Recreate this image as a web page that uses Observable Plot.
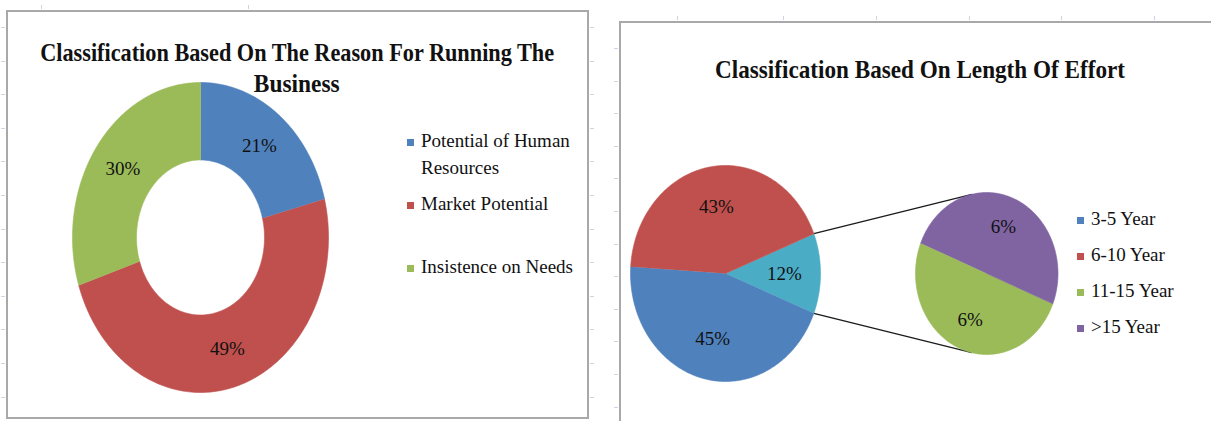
<!DOCTYPE html>
<html>
<head>
<meta charset="utf-8">
<script src="https://cdn.jsdelivr.net/npm/d3@7"></script>
<script src="https://cdn.jsdelivr.net/npm/@observablehq/plot@0.6"></script>
<style>
  html, body { margin: 0; padding: 0; }
  body { width: 1211px; height: 421px; overflow: hidden; background: #fff; position: relative;
         font-family: "Liberation Serif", "Times New Roman", serif; color: #111; }
  .panel { position: absolute; background: #fff; border: 2px solid #a9a9a9; box-sizing: border-box; }
  .title { position: absolute; text-align: center; font-weight: bold; font-size: 26px; line-height: 31px; color: #111; white-space: nowrap; }
  .title span { display: inline-block; transform-origin: center; }
  .legend { position: absolute; font-size: 19px; line-height: 27px; color: #111; }
  .item { position: relative; padding-left: 14px; }
  .sw { position: absolute; left: 0; top: 12px; width: 7px; height: 7px; }
  .chart { position: absolute; }
  .tick { position: absolute; background: #cdd4e3; }
</style>
</head>
<body>
<div id="ticks"></div>
<div class="panel" style="left:6px; top:10px; width:583px; height:409px;"></div>
<div class="panel" style="left:619px; top:21px; width:620px; height:420px;"></div>

<div class="title" style="left:-103px; width:800px; top:37px;"><span style="transform:scaleX(0.856)">Classification Based On The Reason For Running The</span><br><span style="transform:scaleX(0.9)">Business</span></div>
<div class="title" style="left:520px; width:800px; top:54px;"><span style="transform:scaleX(0.891)">Classification Based On Length Of Effort</span></div>

<div id="legendL" class="legend" style="left:407px; top:127px; width:170px;"></div>
<div id="legendR" class="legend" style="left:1077px; top:205px; width:130px;"></div>

<div id="chartL" class="chart" style="left:60px; top:67px;"></div>
<div id="chartR" class="chart" style="left:620px; top:150px;"></div>

<script>
// ---------- data ----------
const reasonCategories = ["Potential of Human Resources", "Market Potential", "Insistence on Needs"];
const reasonValues = [21, 49, 30];
const reasonColors = ["#4F81BD", "#C0504D", "#9BBB59"];

const effortCategories = ["3-5 Year", "6-10 Year", "11-15 Year", ">15 Year"];
const effortValues = [45, 43, 6, 6];
const effortColors = ["#4F81BD", "#C0504D", "#9BBB59", "#8064A2"];
const otherColor = "#4BACC6";

// ---------- faint spreadsheet gridline stubs (decoration) ----------
(function () {
  const host = document.getElementById("ticks");
  const add = (l, t, w, h) => {
    const d = document.createElement("div");
    d.className = "tick";
    Object.assign(d.style, {left: l + "px", top: t + "px", width: w + "px", height: h + "px"});
    host.append(d);
  };
  for (let y = 27; y < 421; y += 33.6) { add(1, Math.round(y), 4, 1); add(590, Math.round(y), 4, 1); }
  for (let y = 48; y < 421; y += 32.6) add(614, Math.round(y), 4, 1);
  [41, 248].forEach(x => add(x, 5, 1, 4));
  [677, 783, 876, 969, 1061, 1154].forEach(x => add(x, 16, 1, 4));
})();

// ---------- helpers ----------
const rad = d => d * Math.PI / 180;
function wedges(values, colors, startDeg, cx, r, rInner, keyPrefix) {
  const total = d3.sum(values);
  const pts = [], labels = [];
  let a = startDeg;
  values.forEach((v, i) => {
    const a0 = a, a1 = a + v / total * 360;
    const n = Math.max(2, Math.ceil(a1 - a0));
    const key = keyPrefix + i;
    for (let k = 0; k <= n; k++) {
      const t = rad(a0 + (a1 - a0) * k / n);
      pts.push({key, color: colors[i], x: cx + r * Math.sin(t), y: r * Math.cos(t)});
    }
    if (rInner > 0) {
      for (let k = n; k >= 0; k--) {
        const t = rad(a0 + (a1 - a0) * k / n);
        pts.push({key, color: colors[i], x: cx + rInner * Math.sin(t), y: rInner * Math.cos(t)});
      }
    } else {
      pts.push({key, color: colors[i], x: cx, y: 0});
    }
    labels.push({v, a0, a1, mid: (a0 + a1) / 2});
    a = a1;
  });
  return {pts, labels};
}

// ---------- left: doughnut ----------
const donut = wedges(reasonValues, reasonColors, 0, 0, 1, 0.5, "d");
const donutLabels = donut.labels.map(l => ({
  x: 0.75 * Math.sin(rad(l.mid)), y: 0.75 * Math.cos(rad(l.mid)), text: l.v + "%"
}));

const chartL = Plot.plot({
  width: 280, height: 340, margin: 0,
  x: {domain: [-1, 1], range: [12, 268], axis: null},
  y: {domain: [-1, 1], range: [325, 15], axis: null},
  color: {type: "identity"},
  marks: [
    Plot.line(donut.pts, {x: "x", y: "y", z: "key", fill: "color", stroke: "color", strokeWidth: 0.6, curve: "linear"}),
    Plot.text(donutLabels, {x: "x", y: "y", text: "text", fontSize: 19, fontFamily: "Liberation Serif", fill: "#111"})
  ]
});
document.getElementById("chartL").append(chartL);

// ---------- right: pie of pie ----------
const otherValue = d3.sum(effortValues.slice(2));
const mainValues = [otherValue, effortValues[0], effortValues[1]];
const mainColors = [otherColor, effortColors[0], effortColors[1]];
const otherStart = 90 - otherValue / d3.sum(mainValues) * 360 / 2;   // "other" slice centred at 3 o'clock
const mainPie = wedges(mainValues, mainColors, otherStart, 0, 1, 0, "m");

const secondOffset = 2.75, secondRadius = 0.75, secondStart = 112;
const subPie = wedges(effortValues.slice(2), effortColors.slice(2), secondStart, secondOffset, secondRadius, 0, "s");

const pieLabels = [
  ...mainPie.labels.map(l => ({x: 0.62 * Math.sin(rad(l.mid)), y: 0.62 * Math.cos(rad(l.mid)), text: l.v + "%"})),
  ...subPie.labels.map(l => ({x: secondOffset + 0.62 * secondRadius * Math.sin(rad(l.mid)), y: 0.62 * secondRadius * Math.cos(rad(l.mid)), text: l.v + "%"}))
];

const otherSlice = mainPie.labels[0];
const connectAngles = [348, 192];
const connectors = [otherSlice.a0, otherSlice.a1].map((a, i) => ({
  x1: Math.sin(rad(a)), y1: Math.cos(rad(a)),
  x2: secondOffset + secondRadius * Math.sin(rad(connectAngles[i])),
  y2: secondRadius * Math.cos(rad(connectAngles[i]))
}));

const pxX = 95, pxY = 108, cxPx = 105, cyPx = 123;
const chartR = Plot.plot({
  width: 470, height: 250, margin: 0,
  x: {domain: [-1, 3.8], range: [cxPx - pxX, cxPx + 3.8 * pxX], axis: null},
  y: {domain: [-1, 1], range: [cyPx + pxY, cyPx - pxY], axis: null},
  color: {type: "identity"},
  marks: [
    Plot.link(connectors, {x1: "x1", y1: "y1", x2: "x2", y2: "y2", stroke: "#1a1a1a", strokeWidth: 1.3}),
    Plot.line(mainPie.pts, {x: "x", y: "y", z: "key", fill: "color", stroke: "color", strokeWidth: 0.6, curve: "linear"}),
    Plot.line(subPie.pts, {x: "x", y: "y", z: "key", fill: "color", stroke: "color", strokeWidth: 0.6, curve: "linear"}),
    Plot.text(pieLabels, {x: "x", y: "y", text: "text", fontSize: 19, fontFamily: "Liberation Serif", fill: "#111"})
  ]
});
document.getElementById("chartR").append(chartR);

// ---------- legends ----------
function legend(el, cats, colors, spacing) {
  cats.forEach((c, i) => {
    const d = document.createElement("div");
    d.className = "item";
    d.style.height = spacing + "px";
    const s = document.createElement("span");
    s.className = "sw";
    s.style.background = colors[i];
    d.append(s, document.createTextNode(c));
    el.append(d);
  });
}
legend(document.getElementById("legendL"), reasonCategories, reasonColors, 63);
legend(document.getElementById("legendR"), effortCategories, effortColors, 36);
</script>
</body>
</html>
